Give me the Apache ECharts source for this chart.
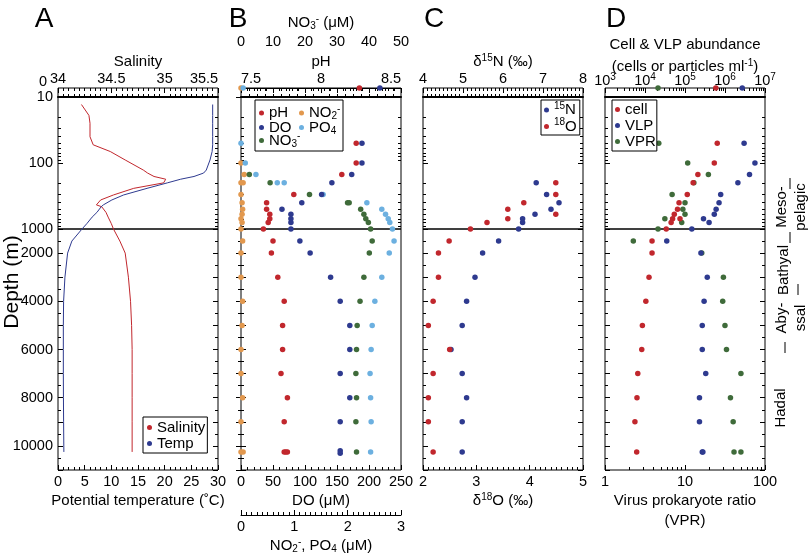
<!DOCTYPE html>
<html><head><meta charset="utf-8">
<script src="https://cdn.jsdelivr.net/npm/echarts@6/dist/echarts.min.js"></script>
<style>html,body{margin:0;padding:0;background:#fff}#c{width:812px;height:560px}</style>
</head><body><div id="c"></div>
<script>
// ---------------- DATA ----------------
// CTD profile (panel A)
const ctdDepth = [13, 19, 25, 40, 53, 67, 90, 128, 142, 160, 176, 200, 242, 305, 363, 431, 460, 560, 660, 830, 1000, 1500, 2000, 3000, 4000, 5000, 6000, 7000, 8000, 9000, 10250];
const ctdSalinity = [34.22, 34.29, 34.30, 34.30, 34.33, 34.49, 34.63, 34.80, 34.84, 34.90, 35.01, 34.99, 34.71, 34.52, 34.40, 34.36, 34.41, 34.45, 34.47, 34.50, 34.52, 34.58, 34.63, 34.66, 34.68, 34.69, 34.695, 34.695, 34.695, 34.695, 34.695];
const ctdTemp = [29.0, 29.0, 29.0, 29.0, 29.0, 28.9, 28.5, 27.8, 27.3, 25.5, 23.0, 20.5, 16.7, 12.3, 10.1, 8.5, 8.1, 7.3, 6.4, 5.4, 4.5, 2.6, 1.8, 1.3, 1.05, 1.0, 1.0, 1.0, 1.02, 1.05, 1.1];

// Panel B : [depth m, value]
const pHData = [[0,8.24],[50,8.22],[100,8.22],[150,8.13],[300,7.83],[400,7.66],[500,7.66],[600,7.68],[700,7.68],[800,7.67],[1000,7.64],[1500,7.70],[2000,7.69],[3000,7.73],[4000,7.77],[5000,7.76],[6000,7.76],[7000,7.75],[8000,7.79],[9000,7.77],[10250,7.77],[10250,7.78],[10250,7.79]];
const doData = [[0,217],[50,189],[100,189],[150,173],[200,142],[300,126],[400,95],[500,64],[600,78],[700,78],[800,78],[1000,78],[1500,92],[2000,108],[3000,140],[4000,155],[5000,170],[6000,170],[7000,155],[8000,170],[9000,155],[10200,155],[10300,155]];
const no3Data = [[150,2.6],[200,9.1],[300,21.4],[400,33.3],[400,33.8],[500,37.4],[600,38.4],[700,39.0],[800,39.8],[1000,40.5],[1500,41.0],[2000,40.1],[3000,38.4],[4000,37.2],[5000,36.3],[6000,36.1],[7000,35.9],[8000,36.1],[9000,35.9],[10250,36.1]];
const no2Data = [[0,0.0],[100,0.0],[150,0.06],[200,0.0],[200,0.04],[300,0.0],[400,0.02],[500,0.03],[600,0.02],[700,0.0],[800,0.02],[1000,0.0],[1500,0.03],[2000,0.0],[3000,0.0],[4000,0.03],[5000,0.02],[6000,0.0],[7000,0.0],[8000,0.03],[9000,0.0],[10250,0.0],[10250,0.04]];
const po4Data = [[0,0.04],[50,0.0],[100,0.08],[150,0.28],[200,0.68],[200,0.81],[300,1.54],[400,2.36],[500,2.64],[600,2.71],[700,2.76],[800,2.79],[1000,2.84],[1500,2.87],[2000,2.78],[3000,2.64],[4000,2.51],[5000,2.46],[6000,2.44],[7000,2.42],[8000,2.43],[9000,2.44],[10250,2.43]];

// Panel C
const n15Data = [[200,6.83],[300,7.09],[400,7.40],[500,7.20],[600,6.80],[700,6.49],[800,6.49],[1000,6.39],[1500,5.89],[2000,5.49],[3000,5.30],[4000,5.09],[5000,4.98],[6000,4.70],[7000,4.98],[8000,5.09],[9000,4.98],[10250,4.98]];
const o18Data = [[200,4.49],[300,4.49],[400,3.89],[500,3.59],[600,4.49],[700,3.59],[800,3.20],[1000,2.89],[1500,2.49],[2000,2.29],[3000,2.29],[4000,2.19],[5000,2.10],[6000,2.50],[7000,2.19],[8000,2.10],[9000,2.10],[10250,2.19]];

// Panel D
const cellData = [[0,5.9e5],[50,6.4e5],[100,5.4e5],[150,2.1e5],[200,1.6e5],[300,1.14e5],[400,7.1e4],[500,6.5e4],[600,5.4e4],[700,4.9e4],[700,7.5e4],[800,4.5e4],[1000,3.4e4],[1500,1.5e4],[2000,1.5e4],[3000,1.26e4],[4000,1.05e4],[5000,8.6e3],[6000,8.3e3],[7000,6.6e3],[8000,6.3e3],[9000,5.6e3],[10250,6.2e3]];
const vlpData = [[0,2.7e6],[50,3.0e6],[100,5.6e6],[150,4.1e6],[200,2.1e6],[300,7.8e5],[400,7.1e5],[500,6.0e5],[600,5.4e5],[700,2.9e5],[800,4.0e5],[1000,1.48e5],[1500,3.5e4],[2000,2.5e5],[3000,3.6e5],[4000,3.0e5],[5000,2.7e5],[6000,2.7e5],[7000,3.3e5],[8000,2.3e5],[9000,2.3e5],[10250,2.7e5],[10250,2.8e5]];
const vprData = [[0,4.6],[50,4.7],[100,10.8],[150,19.6],[200,12.9],[300,6.9],[400,10.0],[500,9.4],[600,10.0],[700,5.6],[800,9.1],[1000,4.6],[1500,2.26],[2000,16.2],[3000,30.2],[4000,29.6],[5000,31.6],[6000,33],[7000,50],[8000,37],[9000,40],[10250,41],[10250,50]];

// depth tick labels
const depthLabelsTop = [0];
const depthLabelsLog = [10, 100, 1000];
const depthLabelsLin = [2000, 4000, 6000, 8000, 10000];
const zoneLabels = ['Meso-\npelagic', 'Bathyal', 'Aby-\nssal', 'Hadal'];

// ---------------- LAYOUT ----------------
const FONT = "'Liberation Sans', Arial, Helvetica, sans-serif";
const C = {red:'#c1272d', blue:'#2e3a8f', green:'#3f6b3a', orange:'#e2984e', lblue:'#6cb0e0'};
const RICH = {
  sub: {fontSize: 10, fontFamily: FONT, color: '#000', padding: [7, 0, 0, 0]},
  sup: {fontSize: 10, fontFamily: FONT, color: '#000', padding: [0, 0, 8, 0]},
  L: {fontSize: 14.5, fontFamily: FONT, color: '#000', padding: [0, 0, 0, 20]},
  R: {fontSize: 14.5, fontFamily: FONT, color: '#000', padding: [0, 20, 0, 0]},
  R4: {fontSize: 14.5, fontFamily: FONT, color: '#000', padding: [0, 28, 0, 0]}
};
const BANDS = [
  {type: 'value', min: 0, max: 10, top: 88, height: 9},
  {type: 'log', min: 10, max: 1000, top: 97, height: 132},
  {type: 'value', min: 1000, max: 11000, top: 229, height: 241}
];
const PW = 160;
const fmtNum = v => String(+(+v).toFixed(2));
const PANELS = [
  {left: 58, scales: [
    {key: 'sal', pos: 'top', min: 34, max: 35.5, interval: 0.5, minor: 10, name: 'Salinity', gap: 16,
      fmt: v => Math.abs(v - 35.5) < 1e-6 ? '{R4|35.5}' : fmtNum(v)},
    {key: 'temp', pos: 'bottom', min: 0, max: 30, interval: 5, minor: 5, name: 'Potential temperature (˚C)', gap: 21}]},
  {left: 241, scales: [
    {key: 'ph', pos: 'top', min: 7.5, max: 8.5, interval: 0.5, minor: 10, name: 'pH', gap: 16,
      fmt: v => Math.abs(v - 7.5) < 1e-6 ? '{L|7.5}' : (Math.abs(v - 8.5) < 1e-6 ? '{R|8.5}' : fmtNum(v))},
    {key: 'no3', pos: 'top', offset: 36, min: 0, max: 50, interval: 10, minor: 5, name: 'NO{sub|3}{sup|-} (μM)', gap: 19, margin: 3},
    {key: 'do', pos: 'bottom', min: 0, max: 250, interval: 50, minor: 5, name: 'DO (μM)', gap: 21},
    {key: 'np', pos: 'bottom', offset: 45, min: 0, max: 3, interval: 1, minor: 10, name: 'NO{sub|2}{sup|-}, PO{sub|4} (μM)', gap: 21}]},
  {left: 423, scales: [
    {key: 'n15', pos: 'top', min: 4, max: 8, interval: 1, minor: 10, name: 'δ{sup|15}N (‰)', gap: 16},
    {key: 'o18', pos: 'bottom', min: 2, max: 5, interval: 1, minor: 10, name: 'δ{sup|18}O (‰)', gap: 21}]},
  {left: 605, scales: [
    {key: 'abund', pos: 'top', log: true, min: 1e3, max: 1e7, pow: true, margin: 0, nameLH: 22,
      name: 'Cell & VLP abundance\n(cells or particles ml{sup|-1})', gap: 10},
    {key: 'vpr', pos: 'bottom', log: true, min: 1, max: 100, name: 'Virus prokaryote ratio\n(VPR)', gap: 21}]}
];

function logMinors(a, b) { const o = []; for (let e = a; e < b; e++) for (let k = 2; k <= 9; k++) o.push(k * Math.pow(10, e)); return o; }

const grids = [], xAxes = [], yAxes = [], xIdx = {}, yIdx = {};
const tickLine = {color: '#000', width: 1};

PANELS.forEach((p, pi) => {
  BANDS.forEach((b, bi) => {
    const gi = grids.length;
    grids.push({left: p.left, top: b.top, width: PW, height: b.height, show: true, borderColor: '#000', borderWidth: 1, backgroundColor: 'transparent', outerBoundsMode: 'none', containLabel: false});
    ['left', 'right'].forEach(side => {
      const showLab = pi === 0 && side === 'left';
      const ax = {type: b.type, gridIndex: gi, position: side, min: b.min, max: b.max, inverse: true,
        axisLine: {show: false}, splitLine: {show: false},
        axisTick: {show: bi !== 0, inside: true, length: 5, lineStyle: tickLine},
        axisLabel: {show: showLab, color: '#000', fontSize: 14.5, fontFamily: FONT, margin: 5, formatter: v => String(Math.round(v))}};
      if (bi === 0) { ax.interval = 10; ax.axisLabel.customValues = depthLabelsTop; ax.axisLabel.verticalAlign = 'bottom'; ax.axisLabel.lineHeight = 12; ax.axisLabel.margin = 11; }
      else if (bi === 1) { ax.logBase = 10; ax.axisLabel.customValues = depthLabelsLog; }
      else { ax.interval = 1000; ax.minorTick = {show: true, splitNumber: 2, length: 3, lineStyle: tickLine}; ax.axisLabel.customValues = depthLabelsLin; }
      if (side === 'left') yIdx[gi] = yAxes.length;
      yAxes.push(ax);
      if (bi === 1) {
        yAxes.push({type: 'log', logBase: 10, gridIndex: gi, position: side, min: b.min, max: b.max, inverse: true,
          axisLine: {show: false}, splitLine: {show: false}, axisLabel: {show: false},
          axisTick: {show: true, inside: true, length: 3, lineStyle: tickLine, customValues: logMinors(1, 3)}});
      }
    });
    p.scales.forEach((s, si) => {
      const visible = (s.pos === 'top' && bi === 0) || (s.pos === 'bottom' && bi === 2);
      const ax = {type: s.log ? 'log' : 'value', gridIndex: gi, position: s.pos, min: s.min, max: s.max,
        show: visible, offset: visible ? (s.offset || 0) : 0,
        axisLine: {show: !!s.offset, lineStyle: tickLine},
        axisTick: {show: true, inside: true, length: 5, lineStyle: tickLine},
        axisLabel: {show: true, color: '#000', fontSize: 14.5, fontFamily: FONT, lineHeight: 14,
          margin: s.margin != null ? s.margin : (s.pos === 'top' ? 2 : 5), rich: RICH},
        splitLine: {show: false},
        name: s.name, nameLocation: 'middle', nameGap: s.gap, nameMoveOverlap: false,
        nameTextStyle: {fontSize: 15, fontFamily: FONT, color: '#000', lineHeight: s.nameLH || 20, rich: RICH}};
      if (bi === 1 && s.pos === 'top' && si === 0) {
        ax.show = true; ax.axisLine = {show: true, lineStyle: {color: '#000', width: 2}};
        ax.axisTick = {show: false}; ax.axisLabel = {show: false}; ax.name = '';
      }
      if (!s.log) {
        ax.interval = s.interval;
        ax.minorTick = {show: true, splitNumber: s.minor, length: 3, lineStyle: tickLine};
        if (ax.axisLabel.show !== false) ax.axisLabel.formatter = s.fmt || fmtNum;
      } else {
        ax.logBase = 10;
        if (ax.axisLabel.show !== false) ax.axisLabel.formatter = s.pow ? v => '10{sup|' + Math.round(Math.log10(v)) + '}' : v => String(Math.round(v));
      }
      xIdx[s.key + '_' + bi] = xAxes.length;
      xAxes.push(ax);
      if (s.log && visible) {
        xAxes.push({type: 'log', logBase: 10, gridIndex: gi, position: s.pos, min: s.min, max: s.max,
          axisLine: {show: false}, splitLine: {show: false}, axisLabel: {show: false},
          axisTick: {show: true, inside: true, length: 3, lineStyle: tickLine,
            customValues: logMinors(Math.round(Math.log10(s.min)), Math.round(Math.log10(s.max)))}});
      }
    });
  });
});

function band(d) { return d < 10 ? 0 : (d <= 1000 ? 1 : 2); }
const series = [];
function addScatter(name, pi, key, data, color) {
  [0, 1, 2].forEach(bi => {
    const pts = data.filter(d => band(d[0]) === bi).map(d => [d[1], d[0]]);
    if (!pts.length) return;
    series.push({type: 'scatter', name, xAxisIndex: xIdx[key + '_' + bi], yAxisIndex: yIdx[pi * 3 + bi],
      data: pts, symbolSize: 5.5, clip: false, itemStyle: {color, opacity: 1}, emphasis: {disabled: true}});
  });
}
function addLine(name, pi, key, depths, vals, color) {
  const all = depths.map((d, i) => [vals[i], d]);
  [all.filter(p => p[1] >= 10 && p[1] <= 1000), all.filter(p => p[1] >= 1000)].forEach((pts, k) => {
    const bi = k + 1;
    series.push({type: 'line', name, xAxisIndex: xIdx[key + '_' + bi], yAxisIndex: yIdx[pi * 3 + bi],
      data: pts, showSymbol: false, symbol: 'circle', clip: true, lineStyle: {color, width: 1}, itemStyle: {color}, emphasis: {disabled: true}});
  });
}
addLine('Salinity', 0, 'sal', ctdDepth, ctdSalinity, C.red);
addLine('Temp', 0, 'temp', ctdDepth, ctdTemp, C.blue);
addScatter('NO2', 1, 'np', no2Data, C.orange);
addScatter('PO4', 1, 'np', po4Data, C.lblue);
addScatter('NO3', 1, 'no3', no3Data, C.green);
addScatter('DO', 1, 'do', doData, C.blue);
addScatter('pH', 1, 'ph', pHData, C.red);
addScatter('15N', 2, 'n15', n15Data, C.blue);
addScatter('18O', 2, 'o18', o18Data, C.red);
addScatter('VPR', 3, 'vpr', vprData, C.green);
addScatter('VLP', 3, 'abund', vlpData, C.blue);
addScatter('cell', 3, 'abund', cellData, C.red);

const LABELS = {NO2: 'NO{sub|2}{sup|-}', PO4: 'PO{sub|4}', NO3: 'NO{sub|3}{sup|-}', '15N': '{sup|15}N', '18O': '{sup|18}O'};
function legend(cfg) {
  return Object.assign({icon: 'circle', itemWidth: 5, itemHeight: 5, borderColor: '#000', borderWidth: 1, borderRadius: 0,
    backgroundColor: '#fff', selectedMode: false, inactiveColor: '#000',
    formatter: n => LABELS[n] || n,
    textStyle: {fontSize: 15, fontFamily: FONT, color: '#000', lineHeight: 15, rich: RICH}}, cfg);
}

const legends = [
  legend({data: ['Salinity', 'Temp'], left: 143, top: 417, orient: 'vertical', itemGap: 1, padding: [3, 2, 2, 4]}),
  legend({data: ['pH', 'NO2', 'DO', 'PO4', 'NO3'], left: 255, top: 100, width: 100, orient: 'horizontal', itemGap: -3, padding: [4, 1, 2, 4],
    textStyle: {fontSize: 15, fontFamily: FONT, color: '#000', lineHeight: 14, width: 33, rich: RICH}}),
  legend({data: ['15N', '18O'], left: 541, top: 100, orient: 'vertical', itemGap: 0, padding: [1, 3, 1, 3]}),
  legend({data: ['cell', 'VLP', 'VPR'], left: 612, top: 100, orient: 'vertical', itemGap: 1, padding: [2, 1, 2, 3]})
];

function txt(text, x, y, size, rot) {
  return {type: 'text', x, y, rotation: rot || 0, silent: true,
    style: {text, fontSize: size, fontFamily: FONT, fill: '#000', align: 'center', verticalAlign: 'middle', lineHeight: 19}};
}
function bar(x, y1, y2) {
  return {type: 'line', silent: true, shape: {x1: x, y1, x2: x, y2}, style: {stroke: '#000', lineWidth: 1}};
}
const graphic = [
  txt('A', 44, 19, 28), txt('B', 238, 19, 28), txt('C', 434, 19, 28), txt('D', 616, 19, 28),
  txt('Depth (m)', 12, 282, 21, Math.PI / 2),
  txt(zoneLabels[0], 791, 207, 15, Math.PI / 2),
  txt(zoneLabels[1], 784, 270, 15, Math.PI / 2),
  txt(zoneLabels[2], 791, 318, 15, Math.PI / 2),
  txt(zoneLabels[3], 781, 408, 15, Math.PI / 2),
  bar(790, 178, 189), bar(790, 232, 243), bar(798, 284, 295), bar(785, 342, 353)
];

const chart = echarts.init(document.getElementById('c'), null, {renderer: 'canvas'});
chart.setOption({
  animation: false,
  backgroundColor: '#fff',
  textStyle: {fontFamily: FONT},
  grid: grids, xAxis: xAxes, yAxis: yAxes, series, legend: legends, graphic
});
</script>
</body></html>
